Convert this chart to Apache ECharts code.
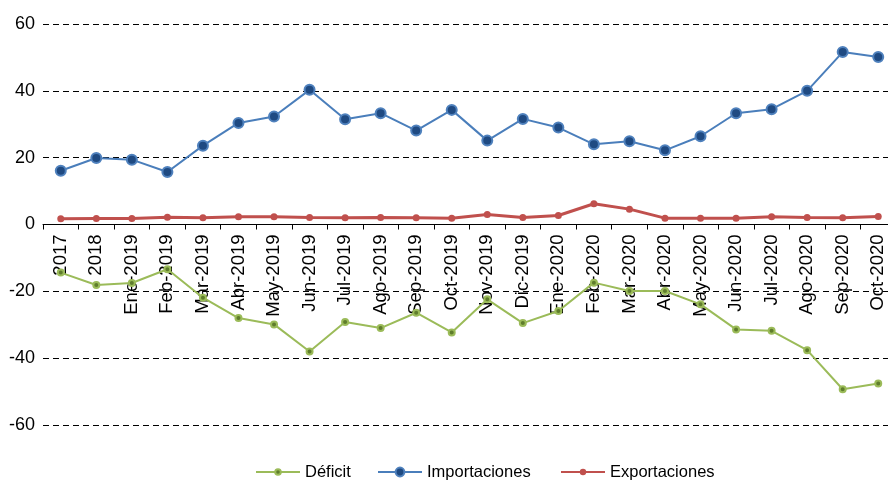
<!DOCTYPE html>
<html>
<head>
<meta charset="utf-8">
<script src="https://cdn.jsdelivr.net/npm/echarts@6/dist/echarts.min.js"></script>
<style>html,body{margin:0;padding:0;background:#fff}#c{width:888px;height:481px}</style>
</head>
<body>
<div id="c"></div>
<script>
const categories = ["2017","2018","Ene-2019","Feb-2019","Mar-2019","Abr-2019","May-2019","Jun-2019","Jul-2019","Ago-2019","Sep-2019","Oct-2019","Nov-2019","Dic-2019","Ene-2020","Feb-2020","Mar-2020","Abr-2020","May-2020","Jun-2020","Jul-2020","Ago-2020","Sep-2020","Oct-2020"];
const deficit = [-14.4,-18.1,-17.5,-13.4,-21.9,-28.0,-29.9,-38.0,-29.2,-31.0,-26.4,-32.3,-22.4,-29.5,-25.9,-17.4,-19.9,-19.9,-23.9,-31.4,-31.8,-37.6,-49.3,-47.6];
const importaciones = [16.1,19.9,19.4,15.7,23.6,30.4,32.3,40.3,31.5,33.3,28.1,34.3,25.1,31.6,29.0,24.0,24.9,22.2,26.4,33.3,34.5,40.0,51.6,50.1];
const exportaciones = [1.7,1.8,1.8,2.2,2.0,2.3,2.3,2.1,2.0,2.1,2.0,1.9,3.0,2.1,2.7,6.2,4.6,1.9,1.9,1.9,2.3,2.1,2.0,2.4];
const yTicks = {min:-60, max:60, interval:20};
const seriesNames = ['Déficit','Importaciones','Exportaciones'];

const chart = echarts.init(document.getElementById('c'), null, {renderer:'canvas'});
const font = '"Liberation Sans", Arial, sans-serif';
const gridTop = 24, gridBottom = 56, H = 481;
const gridH = H - gridTop - gridBottom;
const zeroOffset = -gridH * (0 - yTicks.min) / (yTicks.max - yTicks.min);
function legend(name, left, h) {
  return {
    left:left, top:472 - 10, itemWidth:44, itemHeight:h, padding:0,
    textStyle:{fontFamily:font, fontSize:16.5, color:'#000', height:20, lineHeight:20},
    data:[name]
  };
}
chart.setOption({
  animation:false,
  backgroundColor:'#fff',
  textStyle:{fontFamily:font},
  grid:{left:43, right:-8, top:gridTop, bottom:gridBottom, containLabel:false, outerBoundsMode:'none'},
  legend:[legend(seriesNames[0],255,7), legend(seriesNames[1],377,11), legend(seriesNames[2],560,8)],
  xAxis:{
    type:'category', data:categories, boundaryGap:true, position:'bottom', offset:zeroOffset,
    axisLine:{onZero:false, lineStyle:{color:'#000', width:1}},
    axisTick:{show:true, length:5, lineStyle:{color:'#000'}},
    axisLabel:{rotate:90, fontSize:18.5, color:'#000', fontFamily:font, margin:10, interval:0}
  },
  yAxis:{
    type:'value', min:yTicks.min, max:yTicks.max, interval:yTicks.interval,
    axisLine:{show:false}, axisTick:{show:false},
    axisLabel:{fontSize:18, color:'#000', fontFamily:font, margin:8},
    splitLine:{show:true, lineStyle:{color:'#000', type:[6,4], width:1.2}}
  },
  series:[
    {name:seriesNames[0], type:'line', data:deficit, symbol:'circle', symbolSize:6,
     lineStyle:{color:'#9BBB59', width:2},
     itemStyle:{color:'#5f7d2c', borderColor:'#9BBB59', borderWidth:2}, z:3},
    {name:seriesNames[1], type:'line', data:importaciones, symbol:'circle', symbolSize:10,
     lineStyle:{color:'#4A7EBB', width:2},
     itemStyle:{color:'#1F4A82', borderColor:'#4F81BD', borderWidth:2}, z:2},
    {name:seriesNames[2], type:'line', data:exportaciones, symbol:'circle', symbolSize:7,
     lineStyle:{color:'#C0504D', width:3},
     itemStyle:{color:'#C0504D', borderColor:'#C0504D', borderWidth:0}, z:2}
  ]
});
</script>
</body>
</html>
